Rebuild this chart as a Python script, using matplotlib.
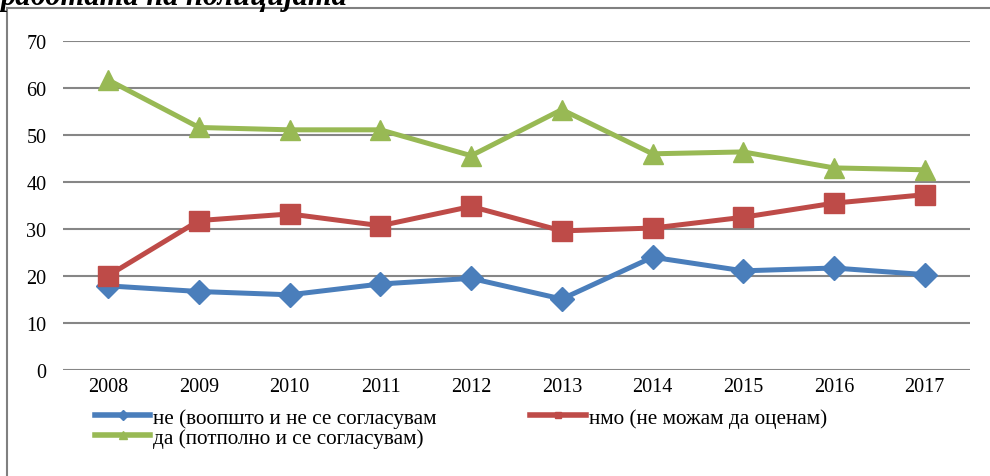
import matplotlib
matplotlib.use("Agg")
import matplotlib.pyplot as plt
from matplotlib.lines import Line2D

years = ["2008", "2009", "2010", "2011", "2012", "2013", "2014", "2015", "2016", "2017"]
ne = [17.9, 16.7, 16.0, 18.3, 19.5, 15.1, 24.0, 21.1, 21.7, 20.3]
nmo = [20.1, 31.8, 33.2, 30.7, 34.8, 29.6, 30.2, 32.5, 35.5, 37.3]
da = [61.7, 51.6, 51.1, 51.1, 45.6, 55.4, 46.0, 46.4, 43.0, 42.6]
labels = ["не (воопшто и не се согласувам", "нмо (не можам да оценам)", "да (потполно и се согласувам)"]
yticks = [0, 10, 20, 30, 40, 50, 60, 70]
title = "работата на полицијата"

plt.rcParams['font.family'] = ['Liberation Serif', 'DejaVu Serif']

W, H = 990, 477
fig = plt.figure(figsize=(W / 100, H / 100), dpi=100)
ax = fig.add_axes([63 / W, 1 - 371 / H, (970 - 63) / W, (371 - 42) / H])

x = list(range(len(years)))
c_blue, c_red, c_green = "#4A7EBB", "#BE4B48", "#98B954"
lw = 3.6
l1, = ax.plot(x, ne, color=c_blue, lw=lw, marker="D", ms=12, mec=c_blue, mfc=c_blue, zorder=3)
l2, = ax.plot(x, nmo, color=c_red, lw=lw, marker="s", ms=14, mec=c_red, mfc=c_red, zorder=3)
l3, = ax.plot(x, da, color=c_green, lw=lw, marker="^", ms=15, mec=c_green, mfc=c_green, zorder=3)

ax.set_xlim(-0.5, len(years) - 0.5)
ax.set_ylim(0, 70)
ax.set_yticks(yticks)
ax.set_yticklabels([str(v) for v in yticks], fontsize=14.5)
ax.set_xticks(x)
ax.set_xticklabels(years, fontsize=14.5)
ax.tick_params(axis="both", length=0)
ax.tick_params(axis="y", pad=12)
ax.tick_params(axis="x", pad=5)
ax.grid(axis="y", color="#868686", lw=1.5)
ax.set_axisbelow(True)
for s in ax.spines.values():
    s.set_visible(False)

handles = [
    Line2D([], [], color=c_blue, lw=4, marker="D", ms=5, mec=c_blue),
    Line2D([], [], color=c_green, lw=4, marker="^", ms=6, mec=c_green),
    Line2D([], [], color=c_red, lw=4, marker="s", ms=5, mec=c_red),
]
leg = fig.legend(handles, [labels[0], labels[2], labels[1]], ncol=2,
                 loc="upper left", bbox_to_anchor=(95 / W, 1 - 409 / H),
                 frameon=False, fontsize=15.3, handlelength=2.6, handletextpad=0.15,
                 columnspacing=4.4, labelspacing=0.0, borderpad=0, borderaxespad=0)

# frame lines
fig.add_artist(Line2D([7 / W, 7 / W], [1 - 9 / H, 0], color="#808080", lw=1.5))
fig.add_artist(Line2D([7 / W, 1], [1 - 9 / H, 1 - 9 / H], color="#808080", lw=1.5))

fig.text(0, 1 - 5 / H, title, fontsize=22, fontweight="bold", fontstyle="italic", va="baseline", ha="left")

fig.savefig("out.png", dpi=100)
